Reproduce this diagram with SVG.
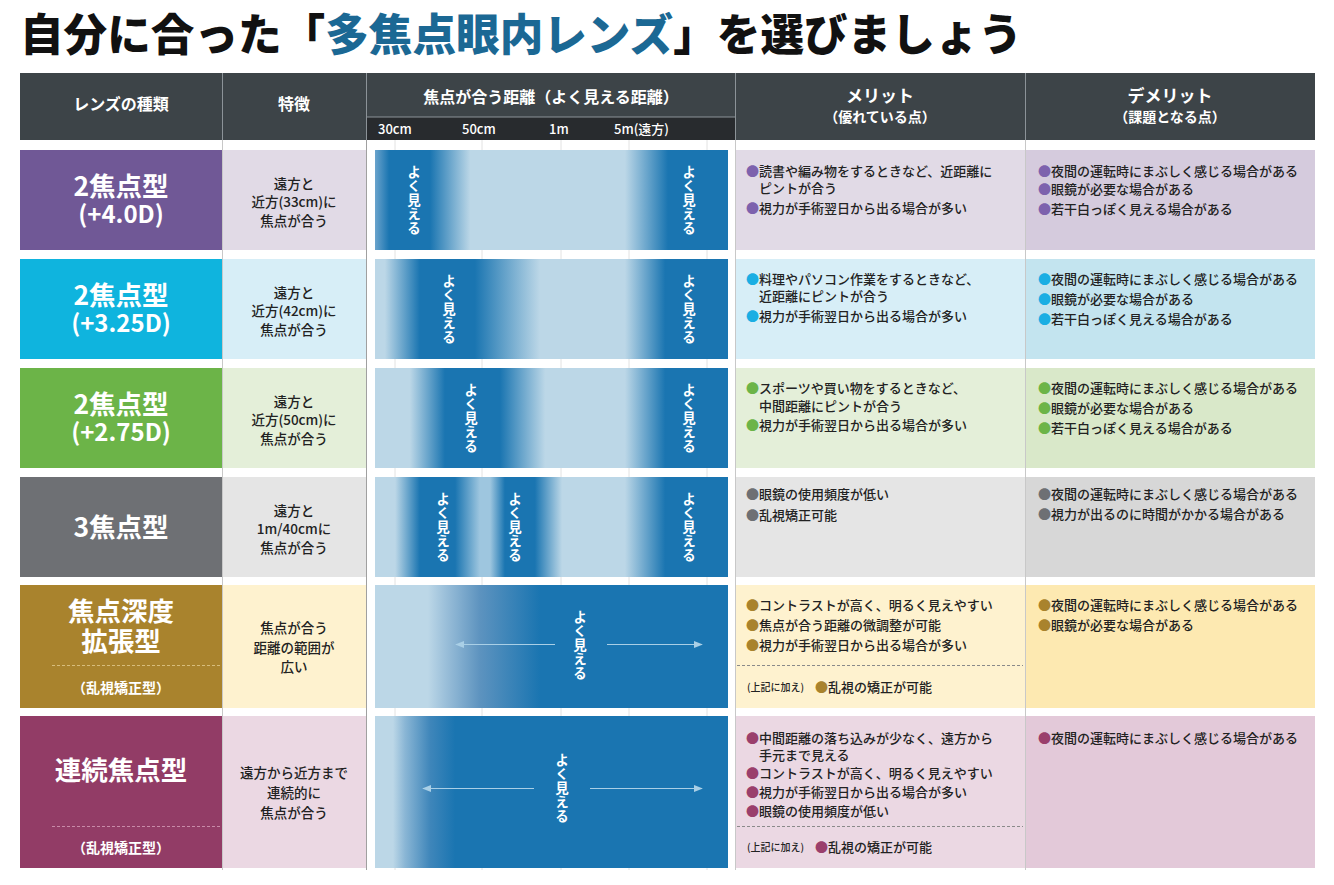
<svg xmlns="http://www.w3.org/2000/svg" width="1334" height="885" viewBox="0 0 1334 885">
<style>
text { font-family: "Noto Sans CJK JP", "Noto Sans", sans-serif; }
.title { font-size: 44px; font-weight: 900; fill: #111; }
.hd { fill: #fff; font-weight: 700; text-anchor: middle; }
.sub { fill: #fff; font-size: 13px; font-weight: 500; }
.c1 { fill: #fff; font-weight: 700; text-anchor: middle; font-size: 26.5px; }
.c1s { fill: #fff; font-weight: 700; text-anchor: middle; font-size: 24px; }
.c1p { fill: #fff; font-weight: 700; text-anchor: middle; font-size: 14px; }
.c2 { fill: #222; font-size: 13.5px; font-weight: 500; text-anchor: middle; }
.li { fill: #222; font-size: 13px; font-weight: 500; }
.note { fill: #222; font-size: 10px; font-weight: 500; }
.bl { fill: #fff; font-size: 13.5px; font-weight: 700; text-anchor: middle; writing-mode: vertical-rl; letter-spacing: 0.5px; }
.sep { stroke: #c8c8c8; stroke-width: 1; }
.grid { stroke: #e2e2e2; stroke-width: 1; }
.hsep { stroke: #8c9398; stroke-width: 1; }
.dashw { stroke-width: 1; stroke-dasharray: 3 2; fill: none; }
.dashg { stroke: #8a8a8a; stroke-width: 1; stroke-dasharray: 3 2; fill: none; }
.arr { stroke: #a9cfe6; stroke-width: 1.2; fill: none; marker-end: url(#ah); }
</style>
<defs>
<marker id="ah" viewBox="0 0 10 10" refX="9" refY="5" markerWidth="9" markerHeight="9" markerUnits="userSpaceOnUse" orient="auto">
<path d="M0,1 L10,5 L0,9 Z" fill="#a9cfe6"/>
</marker>
<linearGradient id="g1" gradientUnits="userSpaceOnUse" x1="375" y1="0" x2="728" y2="0">
<stop offset="0" stop-color="#6aa3cc"/><stop offset="0.04" stop-color="#1a75b1"/><stop offset="0.156" stop-color="#1a75b1"/>
<stop offset="0.27" stop-color="#bcd7e7"/><stop offset="0.708" stop-color="#bcd7e7"/><stop offset="0.83" stop-color="#1a75b1"/><stop offset="1" stop-color="#1a75b1"/>
</linearGradient>
<linearGradient id="g2" gradientUnits="userSpaceOnUse" x1="375" y1="0" x2="728" y2="0">
<stop offset="0" stop-color="#bcd7e7"/><stop offset="0.028" stop-color="#bcd7e7"/><stop offset="0.127" stop-color="#1a75b1"/><stop offset="0.283" stop-color="#1a75b1"/>
<stop offset="0.467" stop-color="#bcd7e7"/><stop offset="0.708" stop-color="#bcd7e7"/><stop offset="0.822" stop-color="#1a75b1"/><stop offset="1" stop-color="#1a75b1"/>
</linearGradient>
<linearGradient id="g3" gradientUnits="userSpaceOnUse" x1="375" y1="0" x2="728" y2="0">
<stop offset="0" stop-color="#bcd7e7"/><stop offset="0.099" stop-color="#bcd7e7"/><stop offset="0.198" stop-color="#1a75b1"/><stop offset="0.354" stop-color="#1a75b1"/>
<stop offset="0.482" stop-color="#bcd7e7"/><stop offset="0.708" stop-color="#bcd7e7"/><stop offset="0.822" stop-color="#1a75b1"/><stop offset="1" stop-color="#1a75b1"/>
</linearGradient>
<linearGradient id="g4" gradientUnits="userSpaceOnUse" x1="375" y1="0" x2="728" y2="0">
<stop offset="0" stop-color="#bcd7e7"/><stop offset="0.057" stop-color="#bcd7e7"/><stop offset="0.127" stop-color="#1a75b1"/><stop offset="0.227" stop-color="#1a75b1"/>
<stop offset="0.297" stop-color="#9ec6df"/><stop offset="0.326" stop-color="#9ec6df"/><stop offset="0.368" stop-color="#1a75b1"/><stop offset="0.453" stop-color="#1a75b1"/>
<stop offset="0.53" stop-color="#bcd7e7"/><stop offset="0.708" stop-color="#bcd7e7"/><stop offset="0.822" stop-color="#1a75b1"/><stop offset="1" stop-color="#1a75b1"/>
</linearGradient>
<linearGradient id="g5" gradientUnits="userSpaceOnUse" x1="375" y1="0" x2="728" y2="0">
<stop offset="0" stop-color="#bcd7e7"/><stop offset="0.15" stop-color="#bcd7e7"/><stop offset="0.198" stop-color="#9cc0da"/>
<stop offset="0.297" stop-color="#5d93bf"/><stop offset="0.467" stop-color="#1a75b1"/><stop offset="1" stop-color="#1a75b1"/>
</linearGradient>
<linearGradient id="g6" gradientUnits="userSpaceOnUse" x1="375" y1="0" x2="728" y2="0">
<stop offset="0" stop-color="#bcd7e7"/><stop offset="0.051" stop-color="#bcd7e7"/><stop offset="0.085" stop-color="#8ab6d5"/>
<stop offset="0.156" stop-color="#3f86ba"/><stop offset="0.227" stop-color="#1a75b1"/><stop offset="1" stop-color="#1a75b1"/>
</linearGradient>
</defs>
<rect width="1334" height="885" fill="#fff"/>

<g id="title">
<text class="title" x="20" y="51" textLength="1002" lengthAdjust="spacingAndGlyphs">自分に合った「<tspan fill="#1b6894">多焦点眼内レンズ</tspan>」を選びましょう</text>
</g>

<g id="grid">
<line class="grid" x1="395" y1="140" x2="395" y2="870"/>
<line class="grid" x1="482" y1="140" x2="482" y2="870"/>
<line class="grid" x1="561" y1="140" x2="561" y2="870"/>
<line class="grid" x1="629" y1="140" x2="629" y2="870"/>
<line class="grid" x1="707" y1="140" x2="707" y2="870"/>
<line class="sep" x1="222.5" y1="140" x2="222.5" y2="870"/>
<line x1="366.5" y1="140" x2="366.5" y2="870" stroke="#a0a0a0" stroke-width="1"/>
<line class="sep" x1="735.5" y1="140" x2="735.5" y2="870"/>
<line class="sep" x1="1025.5" y1="140" x2="1025.5" y2="870"/>
</g>

<g id="header">
<rect x="20" y="73" width="1295" height="67" fill="#3d4448"/>
<rect x="367" y="117" width="368" height="23" fill="#282b2e"/>
<line class="hsep" x1="222.5" y1="73" x2="222.5" y2="140"/>
<line class="hsep" x1="366.5" y1="73" x2="366.5" y2="140"/>
<line class="hsep" x1="735.5" y1="73" x2="735.5" y2="140"/>
<line class="hsep" x1="1025.5" y1="73" x2="1025.5" y2="140"/>
<line class="hsep" x1="367" y1="117" x2="735" y2="117"/>
<text class="hd" x="121" y="110" font-size="16">レンズの種類</text>
<text class="hd" x="294" y="110" font-size="16">特徴</text>
<text class="hd" x="551" y="103" font-size="16">焦点が合う距離（よく見える距離）</text>
<text class="sub" x="378" y="134">30cm</text>
<text class="sub" x="462" y="134">50cm</text>
<text class="sub" x="549" y="134">1m</text>
<text class="sub" x="614" y="134">5m(遠方)</text>
<text class="hd" x="880" y="102" font-size="17">メリット</text>
<text class="hd" x="880" y="122" font-size="14">（優れている点）</text>
<text class="hd" x="1170" y="102" font-size="17">デメリット</text>
<text class="hd" x="1170" y="122" font-size="14">（課題となる点）</text>
</g>

<g id="row1">
<rect x="20" y="150" width="202" height="100" fill="#705896"/>
<rect x="223" y="150" width="143" height="100" fill="#e1dae6"/>
<rect x="375" y="150" width="353" height="100" fill="url(#g1)"/>
<rect x="736" y="150" width="289" height="100" fill="#e1dae6"/>
<rect x="1026" y="150" width="289" height="100" fill="#d5cbdd"/>
<text class="c1" x="121" y="196">2焦点型</text>
<text class="c1s" x="121" y="223">(+4.0D)</text>
<text class="c2" x="294" y="189">遠方と</text>
<text class="c2" x="294" y="207">近方(33cm)に</text>
<text class="c2" x="294" y="226">焦点が合う</text>
<text class="bl" x="414" y="200">よく見える</text>
<text class="bl" x="689" y="200">よく見える</text>
<text class="li" x="746" y="176"><tspan fill="#7d62ad">●</tspan>読書や編み物をするときなど、近距離に</text>
<text class="li" x="759" y="193">ピントが合う</text>
<text class="li" x="746" y="213"><tspan fill="#7d62ad">●</tspan>視力が手術翌日から出る場合が多い</text>
<text class="li" x="1038" y="176"><tspan fill="#7d62ad">●</tspan>夜間の運転時にまぶしく感じる場合がある</text>
<text class="li" x="1038" y="194"><tspan fill="#7d62ad">●</tspan>眼鏡が必要な場合がある</text>
<text class="li" x="1038" y="214"><tspan fill="#7d62ad">●</tspan>若干白っぽく見える場合がある</text>
</g>

<g id="row2">
<rect x="20" y="259" width="202" height="100" fill="#0fb4de"/>
<rect x="223" y="259" width="143" height="100" fill="#d7eef7"/>
<rect x="375" y="259" width="353" height="100" fill="url(#g2)"/>
<rect x="736" y="259" width="289" height="100" fill="#d7eef7"/>
<rect x="1026" y="259" width="289" height="100" fill="#c3e4ef"/>
<text class="c1" x="121" y="305">2焦点型</text>
<text class="c1s" x="121" y="332">(+3.25D)</text>
<text class="c2" x="294" y="298">遠方と</text>
<text class="c2" x="294" y="316">近方(42cm)に</text>
<text class="c2" x="294" y="335">焦点が合う</text>
<text class="bl" x="449" y="309">よく見える</text>
<text class="bl" x="689" y="309">よく見える</text>
<text class="li" x="746" y="284"><tspan fill="#1aaee3">●</tspan>料理やパソコン作業をするときなど、</text>
<text class="li" x="759" y="301">近距離にピントが合う</text>
<text class="li" x="746" y="321"><tspan fill="#1aaee3">●</tspan>視力が手術翌日から出る場合が多い</text>
<text class="li" x="1038" y="284"><tspan fill="#1aaee3">●</tspan>夜間の運転時にまぶしく感じる場合がある</text>
<text class="li" x="1038" y="304"><tspan fill="#1aaee3">●</tspan>眼鏡が必要な場合がある</text>
<text class="li" x="1038" y="324"><tspan fill="#1aaee3">●</tspan>若干白っぽく見える場合がある</text>
</g>

<g id="row3">
<rect x="20" y="368" width="202" height="100" fill="#6cb448"/>
<rect x="223" y="368" width="143" height="100" fill="#e4efd9"/>
<rect x="375" y="368" width="353" height="100" fill="url(#g3)"/>
<rect x="736" y="368" width="289" height="100" fill="#e4efd9"/>
<rect x="1026" y="368" width="289" height="100" fill="#d9e8c9"/>
<text class="c1" x="121" y="414">2焦点型</text>
<text class="c1s" x="121" y="441">(+2.75D)</text>
<text class="c2" x="294" y="407">遠方と</text>
<text class="c2" x="294" y="425">近方(50cm)に</text>
<text class="c2" x="294" y="444">焦点が合う</text>
<text class="bl" x="471" y="418">よく見える</text>
<text class="bl" x="689" y="418">よく見える</text>
<text class="li" x="746" y="393"><tspan fill="#6cb448">●</tspan>スポーツや買い物をするときなど、</text>
<text class="li" x="759" y="411">中間距離にピントが合う</text>
<text class="li" x="746" y="430"><tspan fill="#6cb448">●</tspan>視力が手術翌日から出る場合が多い</text>
<text class="li" x="1038" y="393"><tspan fill="#6cb448">●</tspan>夜間の運転時にまぶしく感じる場合がある</text>
<text class="li" x="1038" y="413"><tspan fill="#6cb448">●</tspan>眼鏡が必要な場合がある</text>
<text class="li" x="1038" y="433"><tspan fill="#6cb448">●</tspan>若干白っぽく見える場合がある</text>
</g>

<g id="row4">
<rect x="20" y="477" width="202" height="100" fill="#6e7074"/>
<rect x="223" y="477" width="143" height="100" fill="#e5e5e5"/>
<rect x="375" y="477" width="353" height="100" fill="url(#g4)"/>
<rect x="736" y="477" width="289" height="100" fill="#e5e5e5"/>
<rect x="1026" y="477" width="289" height="100" fill="#d7d7d7"/>
<text class="c1" x="121" y="537">3焦点型</text>
<text class="c2" x="294" y="516">遠方と</text>
<text class="c2" x="294" y="534">1m/40cmに</text>
<text class="c2" x="294" y="553">焦点が合う</text>
<text class="bl" x="443" y="527">よく見える</text>
<text class="bl" x="515" y="527">よく見える</text>
<text class="bl" x="689" y="527">よく見える</text>
<text class="li" x="746" y="499"><tspan fill="#6e7074">●</tspan>眼鏡の使用頻度が低い</text>
<text class="li" x="746" y="520"><tspan fill="#6e7074">●</tspan>乱視矯正可能</text>
<text class="li" x="1038" y="499"><tspan fill="#6e7074">●</tspan>夜間の運転時にまぶしく感じる場合がある</text>
<text class="li" x="1038" y="519"><tspan fill="#6e7074">●</tspan>視力が出るのに時間がかかる場合がある</text>
</g>

<g id="row5">
<rect x="20" y="585" width="202" height="123" fill="#a9832d"/>
<rect x="223" y="585" width="143" height="123" fill="#fef2cf"/>
<rect x="375" y="585" width="353" height="123" fill="url(#g5)"/>
<rect x="736" y="585" width="289" height="123" fill="#fef2cf"/>
<rect x="1026" y="585" width="289" height="123" fill="#fde9b1"/>
<text class="c1" x="121" y="621">焦点深度</text>
<text class="c1" x="121" y="651">拡張型</text>
<line class="dashw" x1="52" y1="665.5" x2="222" y2="665.5" stroke="#d7bd7c"/>
<text class="c1p" x="121" y="693">（乱視矯正型）</text>
<text class="c2" x="294" y="633">焦点が合う</text>
<text class="c2" x="294" y="653">距離の範囲が</text>
<text class="c2" x="294" y="672">広い</text>
<text class="bl" x="580" y="645">よく見える</text>
<text class="li" x="746" y="610"><tspan fill="#a9832d">●</tspan>コントラストが高く、明るく見えやすい</text>
<text class="li" x="746" y="630"><tspan fill="#a9832d">●</tspan>焦点が合う距離の微調整が可能</text>
<text class="li" x="746" y="650"><tspan fill="#a9832d">●</tspan>視力が手術翌日から出る場合が多い</text>
<line class="dashg" x1="737" y1="665.5" x2="1023" y2="665.5"/>
<text class="note" x="747" y="691">(上記に加え)</text>
<text class="li" x="815" y="692"><tspan fill="#a9832d">●</tspan>乱視の矯正が可能</text>
<text class="li" x="1038" y="610"><tspan fill="#a9832d">●</tspan>夜間の運転時にまぶしく感じる場合がある</text>
<text class="li" x="1038" y="630"><tspan fill="#a9832d">●</tspan>眼鏡が必要な場合がある</text>
</g>

<g id="row6">
<rect x="20" y="716" width="202" height="152" fill="#923c66"/>
<rect x="223" y="716" width="143" height="152" fill="#ebd8e3"/>
<rect x="375" y="716" width="353" height="152" fill="url(#g6)"/>
<rect x="736" y="716" width="289" height="152" fill="#ebd8e3"/>
<rect x="1026" y="716" width="289" height="152" fill="#e3c9d9"/>
<text class="c1" x="121" y="780">連続焦点型</text>
<line class="dashw" x1="52" y1="826.5" x2="222" y2="826.5" stroke="#c88aa8"/>
<text class="c1p" x="121" y="853">（乱視矯正型）</text>
<text class="c2" x="294" y="778">遠方から近方まで</text>
<text class="c2" x="294" y="798">連続的に</text>
<text class="c2" x="294" y="818">焦点が合う</text>
<text class="bl" x="562" y="788">よく見える</text>
<text class="li" x="746" y="743"><tspan fill="#9a3f6c">●</tspan>中間距離の落ち込みが少なく、遠方から</text>
<text class="li" x="759" y="760">手元まで見える</text>
<text class="li" x="746" y="778"><tspan fill="#9a3f6c">●</tspan>コントラストが高く、明るく見えやすい</text>
<text class="li" x="746" y="797"><tspan fill="#9a3f6c">●</tspan>視力が手術翌日から出る場合が多い</text>
<text class="li" x="746" y="816"><tspan fill="#9a3f6c">●</tspan>眼鏡の使用頻度が低い</text>
<line class="dashg" x1="737" y1="826.5" x2="1023" y2="826.5"/>
<text class="note" x="747" y="851">(上記に加え)</text>
<text class="li" x="815" y="852"><tspan fill="#9a3f6c">●</tspan>乱視の矯正が可能</text>
<text class="li" x="1038" y="743"><tspan fill="#9a3f6c">●</tspan>夜間の運転時にまぶしく感じる場合がある</text>
</g>

<g id="connectors">
<line class="arr" x1="555" y1="644.5" x2="456" y2="644.5"/>
<line class="arr" x1="607" y1="644.5" x2="702" y2="644.5"/>
<line class="arr" x1="534" y1="788.5" x2="423" y2="788.5"/>
<line class="arr" x1="590" y1="788.5" x2="702" y2="788.5"/>
</g>
</svg>
